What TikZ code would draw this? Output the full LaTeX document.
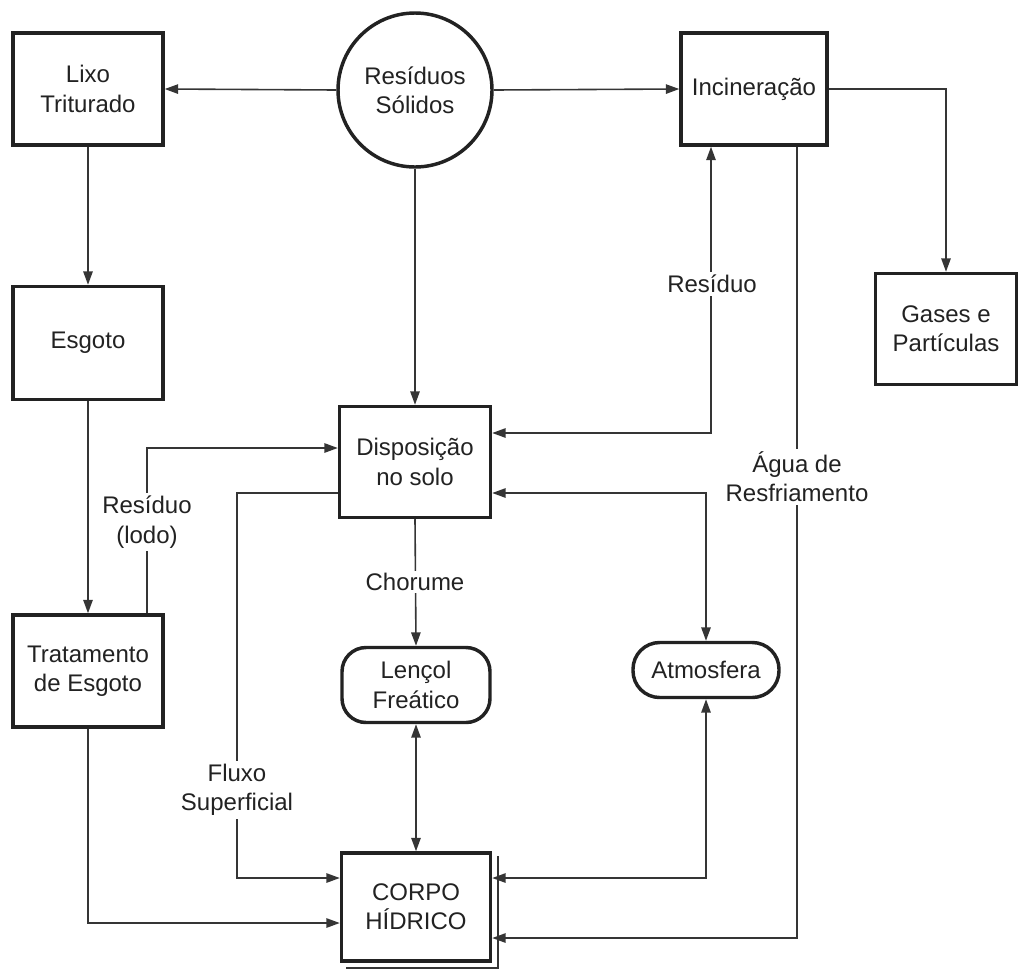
\documentclass[tikz,border=0pt]{standalone}
\usepackage{fontspec}
\setmainfont{Liberation Sans}
\usetikzlibrary{arrows.meta,calc}
\definecolor{ink}{HTML}{222222}
\definecolor{wire}{HTML}{353535}
\begin{document}
\begin{tikzpicture}[x=0.75pt,y=-0.75pt,
  font=\fontsize{18}{22}\selectfont, text=ink,
  box/.style n args={2}{draw=ink, line width=2.6pt, fill=white, align=center,
    inner sep=0pt, minimum width=#1*0.75pt, minimum height=#2*0.75pt},
  roundbox/.style n args={3}{box={#1}{#2}, rounded corners=#3},
  wire/.style={draw=wire, line width=1.2pt},
  tip/.tip={Triangle[length=10pt,width=7pt]},
  arr/.style={wire, -tip},
  both/.style={wire, tip-tip},
  lbl/.style={fill=white, inner sep=2pt, align=center}]

\useasboundingbox (0,0) rectangle (1019,968);

% process boxes
\node[box={150}{112}] (lixo) at (88,89) {Lixo\\Triturado};
\node[draw=ink, line width=2.6pt, fill=white, circle, inner sep=0pt,
      minimum size=154*0.75pt, align=center] (res) at (415,90) {Resíduos\\Sólidos};
\node[box={146}{112}] (inc) at (754,89) {Incineração};
\node[box={141}{111}] (gas) at (946,329) {Gases e\\Partículas};
\node[box={150}{113}] (esg) at (88,343) {Esgoto};
\node[box={151}{111}] (disp) at (415,462) {Disposição\\no solo};
\node[box={150}{112}] (trat) at (88,671) {Tratamento\\de Esgoto};
\node[roundbox={148}{75}{18pt}] (lenc) at (416,685) {Lençol\\Freático};
\node[roundbox={146}{55}{20pt}] (atm) at (706,670) {Atmosfera};
\node[box={149}{108}] (corpo) at (416,907) {CORPO\\HÍDRICO};
% stacked edge on the water body box
\draw[wire, line width=1.8pt] ($(corpo.north east)+(6,5)$) -- ($(corpo.south east)+(6,5)$)
  -- ($(corpo.south west)+(6,5)$);

% flows from the solid waste
\draw[arr] (res.west) -- (lixo.east);
\draw[arr] (res.east) -- (inc.west);
\draw[arr] (inc.east) -| (gas.north);
\draw[arr] (res.south) -- (disp.north);
\draw[arr] (lixo.south) -- (esg.north);
\draw[arr] (esg.south) -- (trat.north);

% sludge back to the soil
\draw[arr] ($(trat.north)+(59,0)$) |- ($(disp.west)+(0,-14)$);
\node[lbl] at (147,522) {Resíduo\\(lodo)};

% surface runoff
\draw[arr] ($(disp.west)+(0,31)$) -| ($(corpo.west)+(-103,-29)$) -- ($(corpo.west)+(0,-29)$);
\node[lbl] at (237,790) {Fluxo\\Superficial};

% treated sewage to the water body
\draw[arr] (trat.south) |- ($(corpo.west)+(0,16)$);

% leachate and groundwater
\draw[arr] (disp.south) -- (lenc.north);
\node[lbl] at (415,582) {Chorume};
\draw[both] (lenc.south) -- (corpo.north);

% incineration residue
\draw[both] ($(disp.east)+(0,-29)$) -| ($(inc.south)+(-43,0)$);
\node[lbl] at (712,284) {Resíduo};

% exchanges with the atmosphere
\draw[both] ($(disp.east)+(0,31)$) -| (atm.north);
\draw[both] ($(corpo.east)+(0,-29)$) -| (atm.south);

% cooling water
\draw[arr] ($(inc.south)+(43,0)$) |- ($(corpo.east)+(0,31)$);
\node[lbl] at (797,477) {Água de\\Resfriamento};
\end{tikzpicture}
\end{document}
